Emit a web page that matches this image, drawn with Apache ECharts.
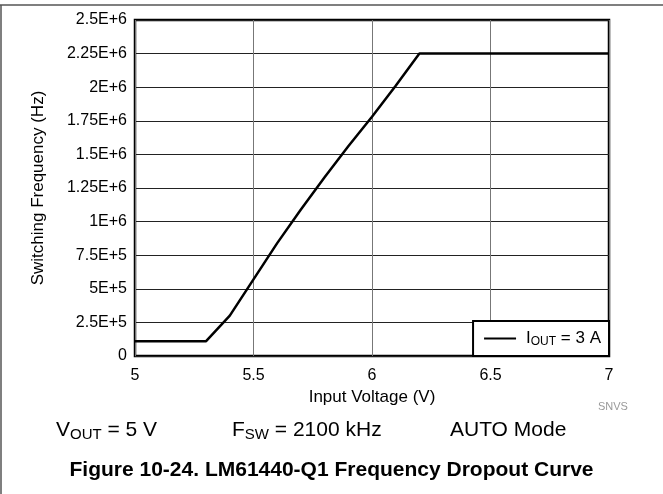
<!DOCTYPE html>
<html>
<head>
<meta charset="utf-8">
<script src="https://cdn.jsdelivr.net/npm/echarts@6/dist/echarts.min.js"></script>
<style>
  html, body { margin: 0; padding: 0; background: #fff; }
  #chart { width: 663px; height: 494px; }
</style>
</head>
<body>
<div id="chart"></div>
<script>
// input voltage (V) and switching frequency (Hz)
const vin = [5, 5.3, 5.4, 5.5, 5.6, 5.7, 5.8, 5.9, 6.0, 6.1, 6.2, 6.5, 7];
const fsw = [1.1e5, 1.1e5, 3.0e5, 5.7e5, 8.4e5, 1.09e6, 1.33e6, 1.56e6, 1.78e6, 2.01e6, 2.25e6, 2.25e6, 2.25e6];
const yTickValues = [0, 2.5e5, 5e5, 7.5e5, 1e6, 1.25e6, 1.5e6, 1.75e6, 2e6, 2.25e6, 2.5e6];
const yTickLabels = ['0', '2.5E+5', '5E+5', '7.5E+5', '1E+6', '1.25E+6', '1.5E+6', '1.75E+6', '2E+6', '2.25E+6', '2.5E+6'];

const font = '"Liberation Sans", Arial, sans-serif';
const chart = echarts.init(document.getElementById('chart'));

// rich styles for subscripted text (V_OUT, F_SW)
const noteRich = {
  a: { fontSize: 21, fontFamily: font, fill: '#000' },
  b: { fontSize: 15, fontFamily: font, fill: '#000', padding: [9, 0, 0, 0] }
};

chart.setOption({
  animation: false,
  textStyle: { fontFamily: font, color: '#000' },
  grid: {
    left: 135, right: 54, top: 20, bottom: 138,
    show: true, borderColor: '#000', borderWidth: 2.5
  },
  xAxis: {
    type: 'value', min: 5, max: 7, interval: 0.5,
    name: 'Input Voltage (V)', nameLocation: 'middle', nameGap: 31,
    nameTextStyle: { fontSize: 17, color: '#000' },
    axisLine: { show: false },
    axisTick: { show: false },
    axisLabel: { fontSize: 16, color: '#000', margin: 12 },
    splitLine: { lineStyle: { color: '#777', width: 1 } }
  },
  yAxis: {
    type: 'value', min: 0, max: 2.5e6, interval: 2.5e5,
    name: 'Switching Frequency (Hz)', nameLocation: 'middle', nameGap: 88,
    nameTextStyle: { fontSize: 17, color: '#000' },
    axisLine: { show: false },
    axisTick: { show: false },
    axisLabel: {
      fontSize: 16, color: '#000', margin: 8,
      formatter: v => {
        const i = yTickValues.findIndex(t => Math.abs(t - v) < 1);
        return i >= 0 ? yTickLabels[i] : '';
      }
    },
    splitLine: { lineStyle: { color: '#222', width: 1 } }
  },
  legend: {
    right: 54, bottom: 138,
    padding: [9, 8, 8, 11],
    itemWidth: 32, itemGap: 0,
    backgroundColor: '#fff', borderColor: '#000', borderWidth: 2,
    borderRadius: 0,
    data: [{ name: 'IOUT', icon: 'path://M0,0L32,0L32,2L0,2Z' }],
    formatter: () => '{s|}{a|I}{b|OUT}{a| = 3 A}',
    textStyle: {
      rich: {
        s: { width: 5 },
        a: { fontSize: 17, fontFamily: font, color: '#000' },
        b: { fontSize: 12, fontFamily: font, color: '#000', verticalAlign: 'bottom', padding: [7, 0, 0, 0] }
      }
    }
  },
  series: [{
    name: 'IOUT',
    type: 'line',
    data: vin.map((v, i) => [v, fsw[i]]),
    showSymbol: false,
    lineStyle: { color: '#000', width: 2.5 },
    itemStyle: { color: '#000' }
  }],
  graphic: [
    { type: 'line', shape: { x1: 0, y1: 5, x2: 663, y2: 5 }, style: { stroke: '#555', lineWidth: 1.5 } },
    { type: 'line', shape: { x1: 1, y1: 5, x2: 1, y2: 494 }, style: { stroke: '#555', lineWidth: 1.5 } },
    { type: 'text', left: 598, top: 401, style: { text: 'SNVS', font: '11px ' + font, fill: '#999' } },
    { type: 'text', left: 56, top: 420, style: { text: '{a|V}{b|OUT}{a| = 5 V}', rich: noteRich } },
    { type: 'text', left: 232, top: 420, style: { text: '{a|F}{b|SW}{a| = 2100 kHz}', rich: noteRich } },
    { type: 'text', left: 450, top: 420, style: { text: 'AUTO Mode', font: '21px ' + font, fill: '#000' } },
    {
      type: 'text', left: 'center', top: 460,
      style: { text: 'Figure 10-24. LM61440-Q1 Frequency Dropout Curve', font: 'bold 21px ' + font, fill: '#000' }
    }
  ]
});
</script>
</body>
</html>
